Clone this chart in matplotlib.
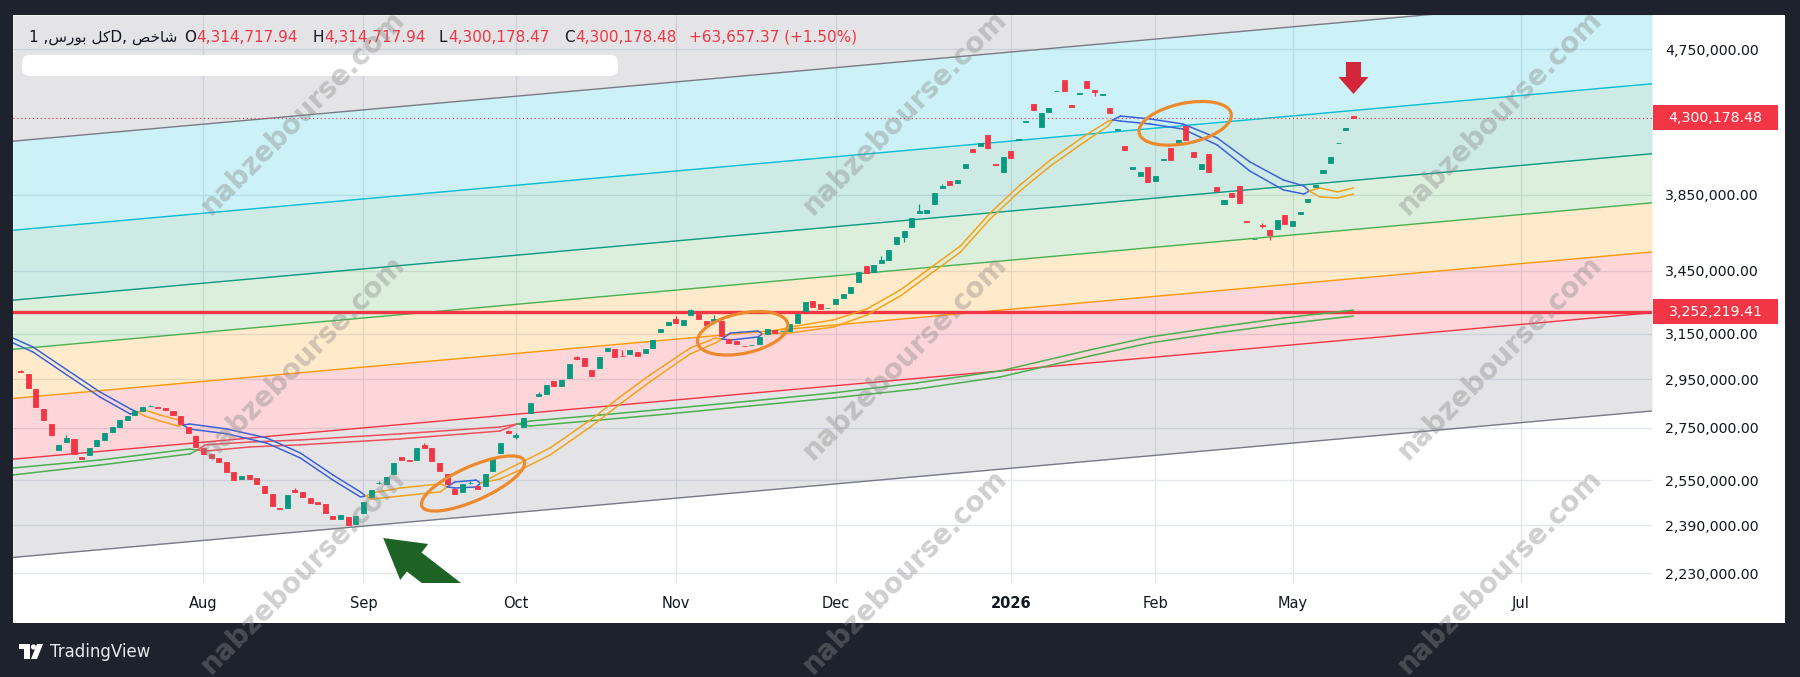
import numpy as np
import matplotlib.pyplot as plt
from matplotlib.patches import Rectangle, Ellipse, Polygon, Circle, FancyBboxPatch
from matplotlib.transforms import ScaledTranslation, IdentityTransform, blended_transform_factory
from matplotlib.ticker import NullLocator

plt.rcParams['font.family'] = ['DejaVu Sans']

# daily candles of the index, in thousands of points
opens_k = [
    2985, 2972, 2908, 2826, 2765, 2663, 2694, 2706, 2636, 2644,
    2679, 2702, 2733, 2753, 2781, 2801, 2817, 2836, 2834, 2830,
    2817, 2797, 2753, 2718, 2671, 2648, 2633, 2618, 2580, 2554,
    2569, 2558, 2528, 2499, 2449, 2449, 2514, 2507, 2485, 2471,
    2464, 2421, 2411, 2418, 2393, 2432, 2489, 2538, 2536, 2573,
    2636, 2626, 2625, 2683, 2671, 2614, 2573, 2518, 2507, 2538,
    2528, 2528, 2584, 2652, 2737, 2714, 2753, 2809, 2879, 2887,
    2942, 2921, 2955, 3046, 3041, 2989, 2998, 3072, 3081, 3051,
    3059, 3068, 3063, 3086, 3158, 3190, 3217, 3190, 3236, 3241,
    3208, 3208, 3208, 3126, 3117, 3095, 3097, 3103, 3149, 3167,
    3161, 3162, 3199, 3255, 3302, 3288, 3267, 3288, 3316, 3340,
    3394, 3473, 3443, 3488, 3503, 3585, 3622, 3674, 3749, 3749,
    3798, 3887, 3926, 3915, 4001, 4112, 4130, 4196, 4024, 3978,
    4100, 4165, 4275, 4388, 4245, 4337, 4468, 4542, 4381, 4451,
    4536, 4477, 4445, 4362, 4226, 4130, 3995, 3955, 4006, 3926,
    4047, 4118, 4141, 4251, 4094, 3995, 4082, 3893, 3798, 3859,
    3898, 3706, 3609, 3685, 3658, 3664, 3738, 3679, 3744, 3809,
    3893, 3972, 4030, 4145, 4229, 4314.718,
]
highs_k = [
    2989, 2972, 2908, 2826, 2765, 2683, 2722, 2706, 2636, 2671,
    2702, 2729, 2753, 2781, 2797, 2817, 2834, 2840, 2834, 2830,
    2817, 2797, 2753, 2718, 2671, 2648, 2633, 2618, 2580, 2565,
    2569, 2558, 2528, 2499, 2449, 2496, 2521, 2507, 2485, 2471,
    2464, 2421, 2425, 2418, 2421, 2471, 2514, 2547, 2562, 2614,
    2636, 2626, 2671, 2690, 2671, 2614, 2573, 2518, 2536, 2546,
    2528, 2573, 2633, 2690, 2741, 2729, 2789, 2850, 2896, 2925,
    2942, 2946, 3015, 3050, 3041, 2989, 3046, 3086, 3081, 3076,
    3077, 3068, 3081, 3121, 3171, 3204, 3231, 3213, 3264, 3241,
    3208, 3236, 3208, 3126, 3117, 3095, 3099, 3135, 3171, 3167,
    3163, 3194, 3241, 3297, 3302, 3288, 3270, 3312, 3336, 3369,
    3443, 3473, 3478, 3523, 3554, 3622, 3653, 3722, 3798, 3765,
    3859, 3910, 3926, 3932, 4024, 4112, 4147, 4196, 4024, 4065,
    4100, 4172, 4281, 4388, 4331, 4362, 4471, 4542, 4381, 4458,
    4536, 4477, 4451, 4362, 4232, 4130, 4006, 3978, 4006, 3955,
    4053, 4118, 4165, 4251, 4094, 4024, 4082, 3893, 3820, 3859,
    3898, 3706, 3613, 3695, 3658, 3711, 3738, 3706, 3755, 3826,
    3904, 3989, 4065, 4148, 4237, 4314.718,
]
lows_k = [
    2979, 2912, 2834, 2781, 2722, 2663, 2694, 2648, 2629, 2644,
    2679, 2702, 2733, 2753, 2781, 2801, 2817, 2836, 2830, 2822,
    2801, 2765, 2729, 2675, 2648, 2633, 2618, 2580, 2550, 2554,
    2554, 2536, 2503, 2456, 2446, 2449, 2507, 2489, 2467, 2464,
    2432, 2411, 2411, 2390, 2393, 2432, 2489, 2534, 2536, 2573,
    2625, 2623, 2625, 2671, 2621, 2584, 2536, 2499, 2507, 2537,
    2518, 2528, 2584, 2652, 2729, 2706, 2753, 2809, 2879, 2887,
    2921, 2921, 2955, 3037, 3006, 2963, 2998, 3072, 3046, 3049,
    3059, 3050, 3063, 3086, 3158, 3190, 3199, 3190, 3236, 3217,
    3190, 3208, 3139, 3108, 3103, 3093, 3097, 3103, 3149, 3153,
    3161, 3162, 3199, 3255, 3274, 3264, 3267, 3288, 3316, 3340,
    3394, 3438, 3443, 3488, 3503, 3585, 3595, 3674, 3749, 3749,
    3798, 3887, 3904, 3915, 4001, 4094, 4130, 4118, 4018, 3978,
    4059, 4165, 4275, 4350, 4245, 4337, 4468, 4471, 4369, 4451,
    4490, 4440, 4445, 4331, 4226, 4106, 3995, 3955, 3921, 3926,
    4047, 4047, 4141, 4165, 4065, 3995, 3978, 3870, 3798, 3837,
    3804, 3701, 3609, 3670, 3606, 3664, 3690, 3679, 3744, 3809,
    3893, 3972, 4030, 4145, 4229, 4300.178,
]
closes_k = [
    2981, 2912, 2834, 2781, 2722, 2683, 2710, 2648, 2629, 2671,
    2702, 2729, 2753, 2781, 2797, 2817, 2834, 2838, 2830, 2822,
    2801, 2765, 2729, 2675, 2648, 2633, 2618, 2580, 2550, 2565,
    2554, 2536, 2503, 2456, 2446, 2496, 2507, 2489, 2467, 2464,
    2432, 2411, 2425, 2390, 2421, 2471, 2514, 2541, 2562, 2614,
    2625, 2623, 2671, 2671, 2621, 2584, 2536, 2499, 2536, 2541,
    2518, 2573, 2633, 2690, 2729, 2722, 2789, 2850, 2887, 2925,
    2921, 2946, 3015, 3037, 3006, 2963, 3046, 3086, 3046, 3049,
    3077, 3050, 3081, 3121, 3171, 3204, 3199, 3213, 3259, 3217,
    3190, 3217, 3139, 3108, 3103, 3093, 3099, 3135, 3171, 3153,
    3163, 3194, 3241, 3297, 3274, 3264, 3270, 3312, 3336, 3369,
    3443, 3438, 3478, 3503, 3554, 3622, 3653, 3722, 3760, 3765,
    3859, 3898, 3904, 3932, 4024, 4094, 4147, 4118, 4018, 4065,
    4059, 4172, 4281, 4350, 4331, 4362, 4471, 4471, 4369, 4458,
    4490, 4465, 4451, 4331, 4232, 4106, 4006, 3978, 3921, 3955,
    4053, 4047, 4165, 4165, 4065, 4024, 3978, 3870, 3820, 3837,
    3804, 3701, 3613, 3679, 3632, 3711, 3690, 3706, 3755, 3826,
    3904, 3989, 4065, 4148, 4237, 4300.178,
]

month_pos = [24, 45, 65, 86, 107, 130, 149, 167, 197]
month_names = ['Aug', 'Sep', 'Oct', 'Nov', 'Dec', '2026', 'Feb', 'May', 'Jul']
price_ticks = [2230000, 2390000, 2550000, 2750000, 2950000,
               3150000, 3450000, 3850000, 4750000]

# fib channel (log scale): lower edge at two bars, upper edge parallel
channel_bars = [0, 214]
channel_low = [2283000, 2817000]
channel_high = [4162500, 5136400]
fib_levels = [0, 0.236, 0.382, 0.5, 0.618, 0.786, 1.0]
fib_colors = ['#787b86', '#f23645', '#ff9800', '#4caf50', '#089981', '#00bcd4', '#787b86']

support_level = 3252219.41

# last bar for the legend
symbol = '1 ,' + '\ufeb1\ufead\ufeee\ufe91' + ' ' + '\ufede\ufedb' + 'D, ' + '\ufeba\ufea7\ufe8e\ufeb7'
last_open = 4314717.94
last_high = 4314717.94
last_low = 4300178.47
last_close = 4300178.48
last_change = 63657.37
last_pct = 1.50

# short ribbon (two averages), thousands
fast_bars = [-1.0, 1.6, 6.1, 10.4, 14.4, 15.3, 16.3, 18.3, 20.7, 21.3,
             22.2, 27.1, 32.3, 36.7, 41.0, 44.6, 45.3, 46.1, 49.8, 55.1,
             56.0, 57.0, 59.8, 60.4, 62.9, 65.6, 69.5, 74.8, 78.7, 82.6,
             87.9, 91.2, 92.1, 93.2, 96.8, 97.4, 101.0, 106.7, 111.1, 115.5,
             119.8, 123.4, 127.3, 131.2, 135.2, 139.5, 142.8, 143.4, 144.4, 148.3,
             152.6, 157.1, 161.4, 165.8, 168.5, 169.2, 170.6, 172.9, 175.0]
fast_a = [3130, 3090, 2989, 2896, 2826, 2813, 2797, 2777, 2757, 2761,
          2765, 2745, 2710, 2652, 2569, 2507, 2492, 2481, 2492, 2507,
          2525, 2543, 2550, 2539, 2554, 2588, 2644, 2753, 2846, 2938,
          3059, 3108, 3126, 3153, 3162, 3149, 3153, 3180, 3236, 3326,
          3443, 3544, 3717, 3870, 4012, 4148, 4251, 4288, 4312, 4294,
          4263, 4178, 4036, 3932, 3898, 3870, 3837, 3831, 3853]
fast_b = [3108, 3068, 2967, 2875, 2805, 2813, 2822, 2801, 2781, 2761,
          2745, 2726, 2690, 2633, 2550, 2489, 2492, 2503, 2521, 2536,
          2525, 2521, 2525, 2539, 2576, 2614, 2671, 2781, 2875, 2967,
          3085, 3130, 3126, 3121, 3135, 3149, 3180, 3213, 3264, 3355,
          3473, 3575, 3749, 3903, 4047, 4184, 4281, 4288, 4281, 4263,
          4232, 4136, 3983, 3876, 3853, 3870, 3887, 3865, 3887]

# long ribbon, thousands
slow_bars = [-1.0, 10.4, 22.2, 23.2, 24.2, 30.1, 36.7, 49.8, 62.9, 65.2, 66.9,
             76.1, 84.9, 95.8, 106.7, 117.7, 128.6, 140.4, 148.3, 157.1, 165.8, 175.0]
slow_a = [2595, 2625, 2667, 2663, 2659, 2675, 2683, 2706, 2737, 2765, 2777,
          2801, 2826, 2858, 2892, 2934, 2985, 3077, 3135, 3180, 3222, 3259]
slow_b = [2569, 2606, 2648, 2663, 2683, 2694, 2702, 2726, 2753, 2765, 2757,
          2781, 2805, 2838, 2871, 2908, 2959, 3050, 3108, 3153, 3194, 3231]

UP = '#089981'
DOWN = '#f23645'
H = 677

fig = plt.figure(figsize=(18, 6.77), dpi=100)
fig.patch.set_facecolor('#1e222d')
pix = IdentityTransform()
fig.add_artist(Rectangle((13, H - 623), 1772, 608, transform=pix,
                         facecolor='white', edgecolor='none', zorder=-1))

ax = fig.add_axes([13 / 1800, 1 - 583 / H, 1639 / 1800, 568 / H])
ax.set_facecolor('white')
ax.set_yscale('log')
xmin, xmax = -1.01, 214.2
ymin, ymax = 2198143, 4988849
ax.set_xlim(xmin, xmax)
ax.set_ylim(ymin, ymax)
for s in ax.spines.values():
    s.set_visible(False)

# channel
xs = np.array([xmin, xmax])
t = (xs - channel_bars[0]) / (channel_bars[1] - channel_bars[0])
ln_low = np.log(channel_low[0]) + t * (np.log(channel_low[1]) - np.log(channel_low[0]))
ln_w = np.log(channel_high[0]) - np.log(channel_low[0])
lines = [np.exp(ln_low + f * ln_w) for f in fib_levels]
for k in range(len(lines) - 1):
    ax.fill_between(xs, lines[k], lines[k + 1], color=fib_colors[k], alpha=0.2, lw=0, zorder=1)
ax.fill_between(xs, lines[-1], ymax, color=fib_colors[-1], alpha=0.2, lw=0, zorder=1)
for k, ln in enumerate(lines):
    ax.plot(xs, ln, color=fib_colors[k], lw=1.0, zorder=2)

ax.axhline(support_level, color='#f23645', lw=2.4, zorder=3)
ax.axhline(last_close, color='#f23645', lw=0.8, ls=(0, (1, 2.5)), zorder=2.5)


def ribbon(kb, ka, kbb, col_up, col_dn):
    ka = np.array(ka) * 1000.0
    kbb = np.array(kbb) * 1000.0
    for k in range(len(kb) - 1):
        c = col_up if ka[k] + ka[k + 1] >= kbb[k] + kbb[k + 1] else col_dn
        ax.plot(kb[k:k + 2], ka[k:k + 2], color=c, lw=1.1, zorder=3, solid_capstyle='round')
        ax.plot(kb[k:k + 2], kbb[k:k + 2], color=c, lw=1.1, zorder=3, solid_capstyle='round')


ribbon(slow_bars, slow_a, slow_b, '#4caf50', '#f0505b')
ribbon(fast_bars, fast_a, fast_b, '#3b63d8', '#f5a31a')

# candles
o = np.array(opens_k) * 1000.0
hi = np.array(highs_k) * 1000.0
lo = np.array(lows_k) * 1000.0
c = np.array(closes_k) * 1000.0
x = np.arange(len(c))
cols = np.where(c >= o, UP, DOWN)
ax.vlines(x, lo, hi, colors=cols, lw=0.9, zorder=5)
ax.bar(x, np.abs(c - o), bottom=np.minimum(o, c), width=0.66, color=cols,
       edgecolor=cols, linewidth=0.6, zorder=6)

# hand-drawn marks: ellipses (bar, price, width px, height px, angle)
ellipses = [(59.4, 2537600, 112, 34, 24), (94.8, 3151700, 92, 40, 12),
            (152.9, 4267100, 94, 40, 12)]
for b, p, w, h, a in ellipses:
    ax.add_patch(Ellipse((0, 0), w, h, angle=a, fill=False, ec='#ee8a2d', lw=2.3,
                         transform=ScaledTranslation(b, p, ax.transData), zorder=8))

green_arrow = [(0, 0), (45, -6), (38.3, -14.5), (85.8, -51.2), (71.2, -70.2),
               (23.7, -33.5), (17, -42)]
ax.add_patch(Polygon(green_arrow, closed=True, fc='#1e6326', ec='none', zorder=9,
                     transform=ScaledTranslation(47.6, 2345600, ax.transData)))
red_arrow = [(0, 0), (15, 17), (7.5, 17), (7.5, 32), (-7.5, 32), (-7.5, 17), (-15, 17)]
ax.add_patch(Polygon(red_arrow, closed=True, fc='#d3263b', ec='none', zorder=9,
                     transform=ScaledTranslation(175, 4451400, ax.transData)))

# axes, ticks, grid
ax.set_axisbelow(True)
ax.grid(True, color='#e3e6ec', lw=1)
ax.yaxis.tick_right()
ax.set_yticks(price_ticks, labels=[f'{v:,.2f}' for v in price_ticks])
ax.yaxis.set_minor_locator(NullLocator())
ax.set_xticks(month_pos, labels=month_names)
ax.tick_params(axis='y', length=0, pad=9.4, labelsize=10.2, labelcolor='#131722')
ax.tick_params(axis='x', length=0, pad=9.5, labelsize=10.5, labelcolor='#131722')
for lab in ax.get_xticklabels():
    if lab.get_text() == '2026':
        lab.set_fontweight('bold')

# price tags on the scale
blend = blended_transform_factory(ax.transAxes, ax.transData)
for price in (last_close, support_level):
    tr = ScaledTranslation(1.0, price, blend)
    fig.add_artist(Rectangle((1, -12.5), 125, 25, transform=tr, fc='#f23645',
                             ec='none', zorder=4))
    fig.text(63.5, 0, f'{price:,.2f}', transform=tr, ha='center', va='center',
             color='white', fontsize=10.2, zorder=5)

# legend line at the top
dark = '#131722'


def put(xp, s, col):
    fig.text(xp, H - 42, s, transform=pix, ha='left', va='baseline', color=col,
             fontsize=11, zorder=5)


put(29, symbol, dark)
pairs = [(184, 'O', 11, last_open), (313, 'H', 10.5, last_high),
         (439, 'L', 8, last_low), (564, 'C', 10.5, last_close)]
for lx, letter, lw_, val in pairs:
    put(lx, letter, dark)
    put(lx + lw_ + 1, f'{val:,.2f}', DOWN)
put(689, f'+{last_change:,.2f} (+{last_pct:.2f}%)', DOWN)
fig.add_artist(FancyBboxPatch((22, H - 76), 596, 21, boxstyle='round,pad=0,rounding_size=8',
                              transform=pix, fc='white', ec='none', zorder=5))

# footer logo
fig.add_artist(Rectangle((19, H - 649), 11, 5, transform=pix, fc='white', ec='none'))
fig.add_artist(Rectangle((24, H - 659), 6, 15, transform=pix, fc='white', ec='none'))
fig.add_artist(Circle((33.5, H - 647), 2.6, transform=pix, fc='white', ec='none'))
fig.add_artist(Polygon([(37, H - 644), (43, H - 644), (37, H - 659), (31, H - 659)],
                       closed=True, transform=pix, fc='white', ec='none'))
fig.text(50, H - 652, 'TradingView', transform=pix, ha='left', va='center',
         color='#e8e9ed', fontsize=12)

# watermark
for wx in (303, 905, 1500):
    for wy in (113, 358, 572):
        fig.text(wx, H - wy, 'nabzebourse.com', transform=pix, rotation=45,
                 rotation_mode='anchor', ha='center', va='center', fontsize=20,
                 fontweight='bold', color='#8a8a8a', alpha=0.4, zorder=20)

fig.savefig('out.png', dpi=100, facecolor=fig.get_facecolor())
